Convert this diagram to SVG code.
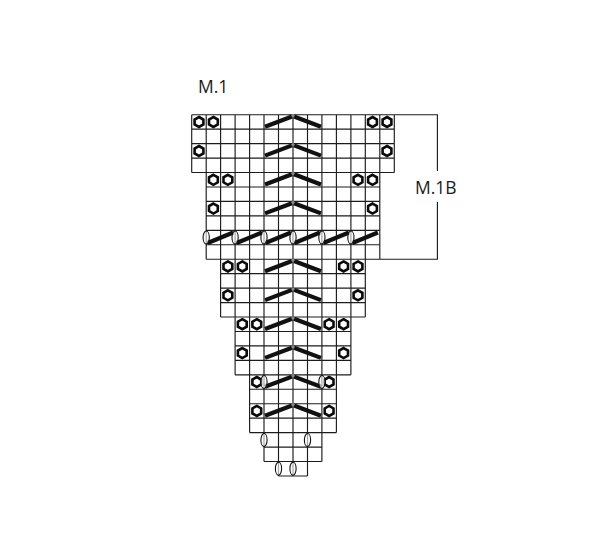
<svg xmlns="http://www.w3.org/2000/svg" xmlns:xlink="http://www.w3.org/1999/xlink" width="600" height="534" viewBox="0 0 600 534">
<style>
.grid{fill:none;stroke:#1c1c1c;stroke-width:1.15}
.hex{fill:none;stroke:#0a0a0a;stroke-width:2.6}
.bar{fill:none;stroke:#111;stroke-width:4.2}
.oval{fill:#fff;fill-opacity:.6;stroke:#111;stroke-width:1.1}
.lab{font-family:"Open Sans","Liberation Sans",sans-serif;font-size:17.5px;fill:#1a1a1a}
</style>
<defs>
<polygon id="h" class="hex" points="0,-5 4.4,-2.5 4.4,2.5 0,5 -4.4,2.5 -4.4,-2.5"/>
<g id="c"><path class="bar" d="M265 12 L292 1.8 M294 1.8 L321 12"/><circle cx="293" cy="0.8" r="1.5" fill="#888"/></g>
<path id="s" class="bar" d="M1.5 5.5 L27 -5"/>
<ellipse id="o" class="oval" rx="3.1" ry="6.5"/>
</defs>
<rect width="600" height="534" fill="#fff"/>
<g id="grid"><path class="grid" d="M191.7 114.7H394.3M191.7 129.15H394.3M191.7 143.6H394.3M191.7 158.05H394.3M191.7 172.5H394.3M206.2 186.95H379.8M206.2 201.4H379.8M206.2 215.85H379.8M206.2 230.3H379.8M206.2 244.75H379.8M206.2 259.2H379.8M220.6 273.65H365.3M220.6 288.1H365.3M220.6 302.55H365.3M220.6 317H365.3M235.1 331.45H350.9M235.1 345.9H350.9M235.1 360.35H350.9M235.1 374.8H350.9M249.6 389.25H336.4M249.6 403.7H336.4M249.6 418.15H336.4M249.6 432.6H336.4M264 447.05H321.9M264 461.5H321.9M278.5 475.95H307.5M191.7 114.7V172.5M394.3 114.7V172.5M206.2 114.7V259.2M379.8 114.7V259.2M220.6 114.7V317M365.3 114.7V317M235.1 114.7V374.8M350.9 114.7V374.8M249.6 114.7V432.6M336.4 114.7V432.6M264 114.7V461.5M321.9 114.7V461.5M278.5 114.7V475.95M293 114.7V475.95M307.5 114.7V475.95"/></g>
<g id="chevrons">
<use xlink:href="#c" href="#c" y="114.7"/><use href="#c" y="143.6"/><use href="#c" y="172.5"/><use href="#c" y="201.4"/><use href="#c" y="259.2"/><use href="#c" y="288.1"/><use href="#c" y="317"/><use href="#c" y="345.9"/><use href="#c" y="374.8"/><use href="#c" y="403.7"/>
</g>
<g id="hexagons">
<use href="#h" x="199" y="122"/><use href="#h" x="213.4" y="122"/><use href="#h" x="372.5" y="122"/><use href="#h" x="387" y="122"/>
<use href="#h" x="199" y="151"/><use href="#h" x="387" y="151"/>
<use href="#h" x="213.4" y="179.8"/><use href="#h" x="227.9" y="179.8"/><use href="#h" x="358" y="179.8"/><use href="#h" x="372.5" y="179.8"/>
<use href="#h" x="213.4" y="208.6"/><use href="#h" x="372.5" y="208.6"/>
<use href="#h" x="227.9" y="266.4"/><use href="#h" x="242.3" y="266.4"/><use href="#h" x="343.6" y="266.4"/><use href="#h" x="358" y="266.4"/>
<use href="#h" x="227.9" y="295.3"/><use href="#h" x="358" y="295.3"/>
<use href="#h" x="242.3" y="324.2"/><use href="#h" x="256.8" y="324.2"/><use href="#h" x="329.1" y="324.2"/><use href="#h" x="343.6" y="324.2"/>
<use href="#h" x="242.3" y="353.1"/><use href="#h" x="343.6" y="353.1"/>
<use href="#h" x="256.8" y="382"/><use href="#h" x="329.1" y="382"/>
<use href="#h" x="256.8" y="410.9"/><use href="#h" x="329.1" y="410.9"/>
</g>
<g id="slants">
<use href="#s" x="206.2" y="237.5"/><use href="#s" x="235.1" y="237.5"/><use href="#s" x="264" y="237.5"/><use href="#s" x="293" y="237.5"/><use href="#s" x="321.9" y="237.5"/><use href="#s" x="350.9" y="237.5"/>
</g>
<g id="ovals">
<use href="#o" x="206.2" y="237.5"/><use href="#o" x="235.1" y="237.5"/><use href="#o" x="264" y="237.5"/><use href="#o" x="293" y="237.5"/><use href="#o" x="321.9" y="237.5"/><use href="#o" x="350.9" y="237.5"/>
<use href="#o" x="264" y="382"/><use href="#o" x="321.9" y="382"/>
<use href="#o" x="264" y="440"/><use href="#o" x="307.5" y="440"/>
<use href="#o" x="278.5" y="468.7"/><use href="#o" x="293" y="468.7"/>
</g>
<g id="bracket"><path class="grid" d="M394.3 114.7H437.4V171M437.4 202V259.2H379.8"/></g>
<text class="lab" x="198" y="93">M.1</text>
<text class="lab" x="415" y="194">M.1B</text>
</svg>
